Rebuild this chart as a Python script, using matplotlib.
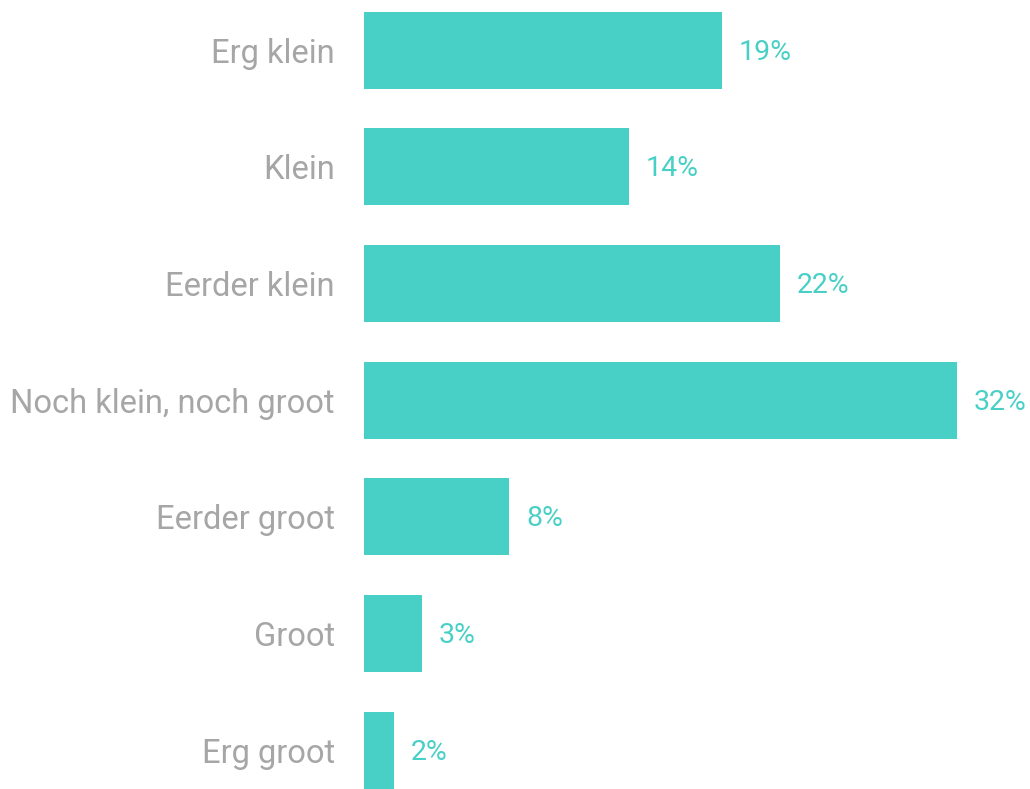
import matplotlib

matplotlib.use("Agg")
import matplotlib.pyplot as plt

categories = ["Erg klein", "Klein", "Eerder klein", "Noch klein, noch groot",
              "Eerder groot", "Groot", "Erg groot"]
values = [19.2, 14.2, 22.3, 31.8, 7.8, 3.1, 1.6]
labels = ["19%", "14%", "22%", "32%", "8%", "3%", "2%"]

TEAL = "#48cfc6"
GREY = "#a6a6a6"

plt.rcParams["font.family"] = ["Roboto", "DejaVu Sans"]

fig = plt.figure(figsize=(10.30, 7.89), dpi=100)
ax = fig.add_axes([364 / 1030, 1 - 788.5 / 789, (1030 - 364) / 1030, (788.5 - 11.5) / 789])

pos = list(range(len(categories)))
ax.barh(pos, values, height=0.66, color=TEAL)
ax.set_ylim(len(categories) - 1 + 0.33, -0.33)
ax.set_xlim(0, 31.8 * (1030 - 364) / 593)

for y, v, lab in zip(pos, values, labels):
    ax.text(v + 0.9, y + 0.02, lab, color=TEAL, fontsize=20.5, va="center", ha="left")

ax.set_yticks(pos)
ax.set_yticklabels(categories, color=GREY, fontsize=23.5)
ax.tick_params(axis="y", length=0, pad=21)
ax.set_xticks([])
for s in ax.spines.values():
    s.set_visible(False)

fig.savefig("out.png", dpi=100, facecolor="white")
